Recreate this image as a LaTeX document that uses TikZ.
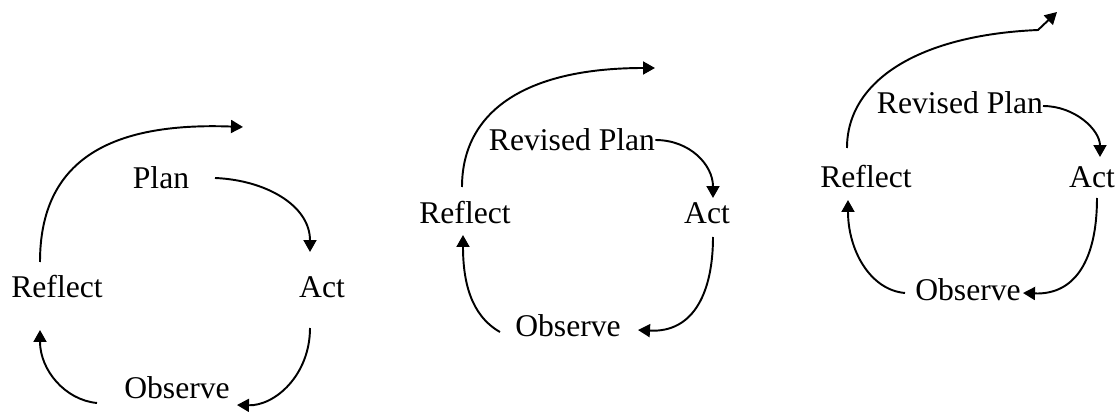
\documentclass[tikz,border=0pt]{standalone}
\usepackage{fontspec}
\setmainfont{Liberation Serif}
\usepackage{tikz}
\usetikzlibrary{arrows.meta}

\begin{document}
\begin{tikzpicture}[x=0.02cm,y=-0.02cm,>={Triangle[length=2.4mm,width=2.6mm]},
  lbl/.style={font=\fontsize{18}{20}\selectfont,inner sep=0pt},
  cyc/.style={->,line width=1.1pt}]
\useasboundingbox (0,0) rectangle (1117,412);
% first cycle
\node[lbl] (plan1) at (161,178) {Plan};
\node[lbl] (refl1) at (57,287) {Reflect};
\node[lbl] (act1) at (322,287) {Act};
\node[lbl] (obs1) at (177,388) {Observe};
\coordinate (top1) at (243,127);
\draw[cyc] ([shift={(-17,-25)}]refl1.center) .. controls (40,160) and (110,122) .. (top1);
\draw[cyc] ([shift={(54,0)}]plan1.center) .. controls (265,180) and (310,205) .. ([shift={(-12,-35)}]act1.center);
\draw[cyc] ([shift={(-12,41)}]act1.center) .. controls (310,375) and (275,406) .. ([shift={(60,17)}]obs1.center);
\draw[cyc] ([shift={(-80,15)}]obs1.center) .. controls (65,400) and (40,370) .. ([shift={(-17,43)}]refl1.center);
% second cycle
\node[lbl] (rplan2) at (572,140) {Revised Plan};
\node[lbl] (refl2) at (465,213) {Reflect};
\node[lbl] (act2) at (707,213) {Act};
\node[lbl] (obs2) at (568,326) {Observe};
\coordinate (top2) at (655,68);
\draw[cyc] ([shift={(-3,-26)}]refl2.center) .. controls (462,115) and (520,68) .. (top2);
\draw[cyc] (rplan2.east) .. controls (690,140) and (713,165) .. ([shift={(6,-15)}]act2.center);
\draw[cyc] ([shift={(6,24)}]act2.center) .. controls (713,290) and (695,333) .. ([shift={(70,4)}]obs2.center);
\draw[cyc] ([shift={(-68,6)}]obs2.center) .. controls (470,315) and (463,280) .. ([shift={(-2,22)}]refl2.center);
% third cycle
\node[lbl] (rplan3) at (960,103) {Revised Plan};
\node[lbl] (refl3) at (866,177) {Reflect};
\node[lbl] (act3) at (1092,177) {Act};
\node[lbl] (obs3) at (968,290) {Observe};
\coordinate (top3) at (1057,12);
\draw[cyc] ([shift={(-19,-29)}]refl3.center) .. controls (847,80) and (920,35) .. (1038,30) -- (top3);
\draw[cyc] ([shift={(83,3)}]rplan3.center) .. controls (1075,106) and (1100,130) .. ([shift={(8,-20)}]act3.center);
\draw[cyc] ([shift={(5,21)}]act3.center) .. controls (1097,260) and (1075,295) .. ([shift={(55,3)}]obs3.center);
\draw[cyc] ([shift={(-63,3)}]obs3.center) .. controls (870,290) and (848,250) .. ([shift={(-18,23)}]refl3.center);
\end{tikzpicture}
\end{document}
